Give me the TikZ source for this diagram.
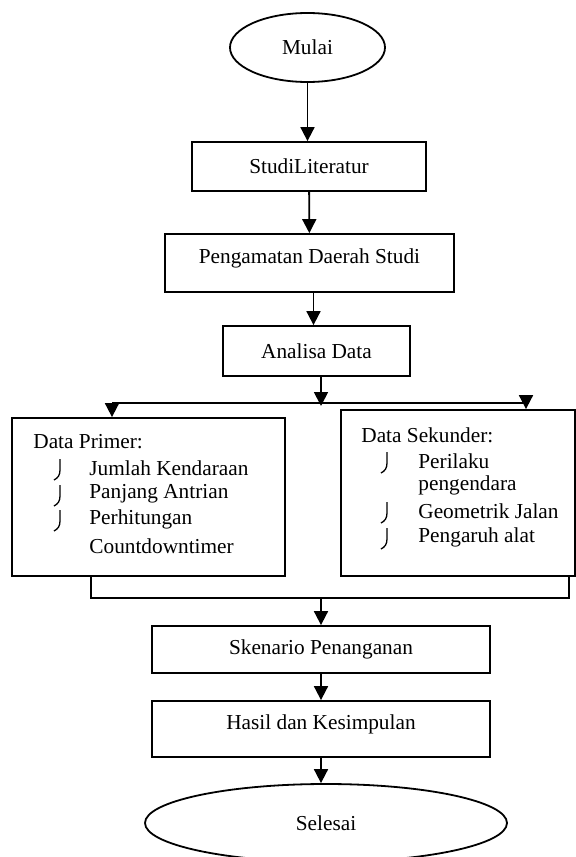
\documentclass[tikz,border=0pt]{standalone}
\usepackage{fontspec}
\setmainfont{Liberation Serif}
\usepackage{tikz}
\usetikzlibrary{arrows.meta,shapes.geometric,calc}

\tikzset{
  box/.style={draw,line width=0.9pt,rectangle,inner sep=0pt},
  oval/.style={draw,line width=0.9pt,ellipse,inner sep=0pt},
  arr/.style={line width=0.9pt,-{Triangle[length=7pt,width=7pt]}},
  link/.style={line width=0.9pt},
  txt/.style={anchor=west,inner sep=0pt},
  bulletmark/.style={line width=0.65pt}
}

\begin{document}
\begin{tikzpicture}[x=0.5pt,y=-0.5pt,font=\fontsize{10.65pt}{13pt}\selectfont]
     \useasboundingbox (0,0) rectangle (576,857);
     \clip (0,0) rectangle (576,857);

     \node[oval,minimum width=77.5pt,minimum height=34.5pt] (mulai) at (307.5,47.5) {Mulai};
     \node[box,minimum width=117pt,minimum height=24.5pt] (studi) at (309,166.5) {StudiLiteratur};
     \node[box,minimum width=144.5pt,minimum height=29pt,text depth=7.3pt] (amat) at (309.5,263) {Pengamatan Daerah Studi};
     \node[box,minimum width=93.5pt,minimum height=25pt] (analisa) at (316.5,351) {Analisa Data};

     \node[box,minimum width=136.5pt,minimum height=79pt] (primer) at (148.5,497) {};
     \node[box,minimum width=117pt,minimum height=83pt] (sekunder) at (458,493) {};

     \node[box,minimum width=169pt,minimum height=23.5pt] (skenario) at (321,649.5) {Skenario Penanganan};
     \node[box,minimum width=169pt,minimum height=28pt,text depth=7.3pt] (hasil) at (321,729) {Hasil dan Kesimpulan};
     \node[oval,minimum width=181pt,minimum height=39pt] (selesai) at (326,823) {Selesai};

     % isi kotak data primer
     \node[txt] (primerjudul) at (33,442) {Data Primer:};
     \node[txt] (jumlah) at (89,468) {Jumlah Kendaraan};
     \node[txt] (antrian) at (89,494) {Panjang Antrian};
     \node[txt] (hitung) at (89,519) {Perhitungan};
     \node[txt] (hitung2) at (89,546) {Countdowntimer};

     % isi kotak data sekunder
     \node[txt] (sekunderjudul) at (361,435) {Data Sekunder:};
     \node[txt] (perilaku) at (418,461) {Perilaku};
     \node[txt] (perilaku2) at (418,485) {pengendara};
     \node[txt] (geometrik) at (418,511) {Geometrik Jalan};
     \node[txt] (alat) at (418,537) {Pengaruh alat};

     \foreach \bx/\by in {60/468,60/494,60/519,387/461,387/511,387/537}
       \draw[bulletmark] (\bx,\by-9) -- (\bx,\by+2) .. controls (\bx,\by+7) and (\bx-2,\by+10) .. (\bx-6,\by+12);

     \draw[arr] (mulai.south) -- (mulai.south |- studi.north);
     \draw[arr] (studi) -- (amat);
     \draw[arr] ([xshift=2pt]amat.south) -- ([xshift=2pt]amat.south |- analisa.north);

     \coordinate (busL) at (112,403);
     \coordinate (busR) at (526,403);
     \coordinate (busM) at (321,406);
     \draw[link] (busL) -- (busR);
     \draw[arr] (busM |- analisa.south) -- (busM);
     \draw[arr] (busL) -- (busL |- primer.north);
     \draw[arr] (busR) -- (busR |- sekunder.north);

     \coordinate (joinL) at (91,598);
     \coordinate (joinR) at (569,598);
     \draw[link] (joinL |- primer.south) -- (joinL) -- (joinR) -- (joinR |- sekunder.south);
     \draw[arr] (skenario.north |- joinL) -- (skenario);
     \draw[arr] (skenario) -- (hasil);
     \draw[arr] (hasil.south) -- (hasil.south |- selesai.north);
\end{tikzpicture}
\end{document}
